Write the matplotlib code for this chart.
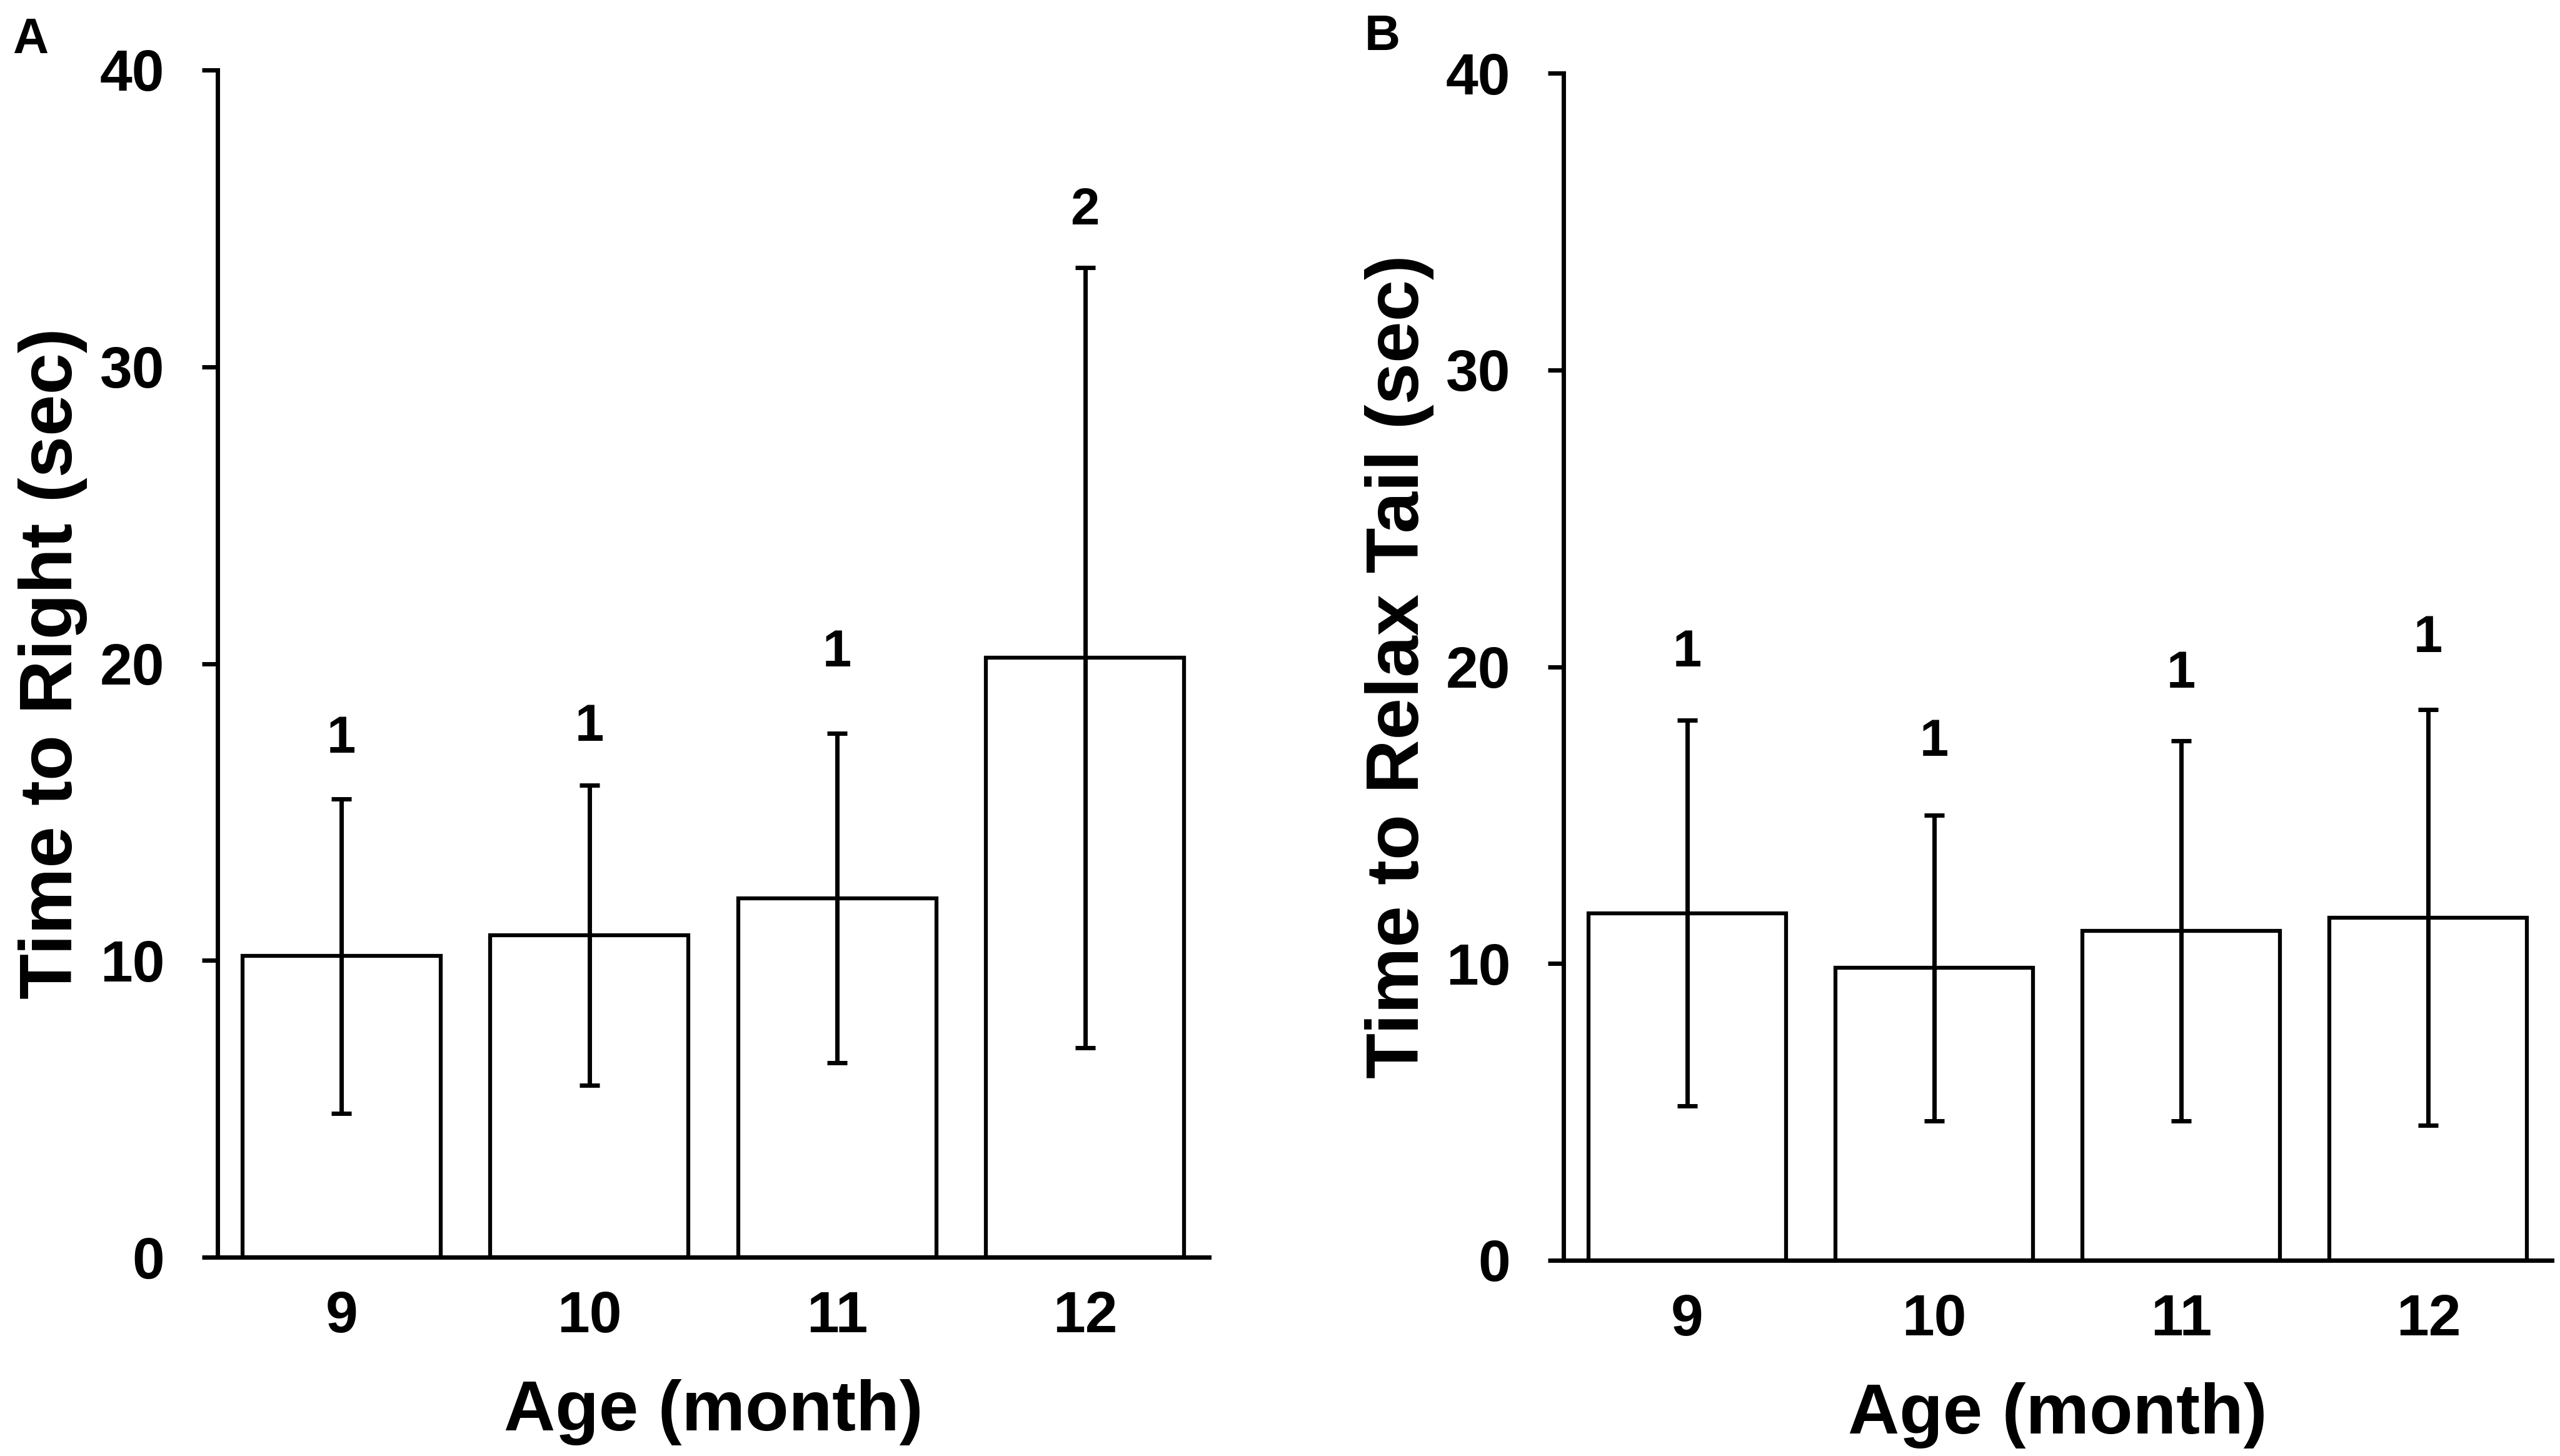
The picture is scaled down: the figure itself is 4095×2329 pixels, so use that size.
import matplotlib
matplotlib.use("Agg")
import matplotlib.pyplot as plt
import numpy as np

plt.rcParams['font.family'] = ['Liberation Sans', 'DejaVu Sans']
plt.rcParams['font.weight'] = 'bold'

ages = ['9', '10', '11', '12']

# panel A - time to right
right_mean = [10.15, 10.85, 12.1, 20.2]
right_err = [5.3, 5.05, 5.55, 13.15]
right_n = ['1', '1', '1', '2']
right_label_y = [17.0, 17.4, 19.9, 34.8]

# panel B - time to relax tail
tail_mean = [11.7, 9.85, 11.1, 11.55]
tail_err = [6.5, 5.15, 6.4, 7.0]
tail_n = ['1', '1', '1', '1']
tail_label_y = [20.0, 17.0, 19.3, 20.5]

W, H = 4095, 2329
fig = plt.figure(figsize=(W / 100, H / 100), dpi=100)

def panel(rect, means, errs, ns, label_y, ylabel):
  ax = fig.add_axes(rect)
  x = np.arange(len(ages))
  ax.bar(x, means, width=0.8, color='white', edgecolor='black', linewidth=4.5, zorder=2)
  ax.errorbar(x, means, yerr=errs, fmt='none', ecolor='black', elinewidth=5,
              capsize=11.5, capthick=5, zorder=3)
  for xi, s, yi in zip(x, ns, label_y):
    ax.text(xi, yi, s, ha='center', va='baseline', fontsize=60, fontweight='bold')
  ax.set_xlim(-0.5, 3.5)
  ax.set_ylim(0, 40)
  ax.set_yticks([0, 10, 20, 30, 40])
  ax.set_xticks(x)
  ax.set_xticklabels(ages)
  for side in ['top', 'right']:
    ax.spines[side].set_visible(False)
  for side in ['left', 'bottom']:
    ax.spines[side].set_linewidth(5)
  ax.tick_params(axis='y', direction='out', length=18, width=5, pad=43, labelsize=67)
  ax.tick_params(axis='x', length=0, pad=38, labelsize=67)
  ax.set_xlabel('Age (month)', fontsize=82, fontweight='bold', va='baseline')
  ax.xaxis.set_label_coords(0.5, -0.146)
  ax.set_ylabel(ylabel, fontsize=86, fontweight='bold')
  ax.yaxis.set_label_coords(-0.131, 0.5)
  return ax

axA = panel([348 / W, 1 - 2011 / H, 1586 / W, 1899 / H], right_mean, right_err,
            right_n, right_label_y, 'Time to Right (sec)')
axB = panel([2501 / W, 1 - 2016 / H, 1581 / W, 1899 / H], tail_mean, tail_err,
            tail_n, tail_label_y, 'Time to Relax Tail (sec)')

fig.text(20 / W, 1 - 85 / H, 'A', fontsize=57, fontweight='bold', ha='left', va='baseline')
fig.text(2183 / W, 1 - 80 / H, 'B', fontsize=57, fontweight='bold', ha='left', va='baseline')

fig.savefig('out.png', dpi=100, facecolor='white')
